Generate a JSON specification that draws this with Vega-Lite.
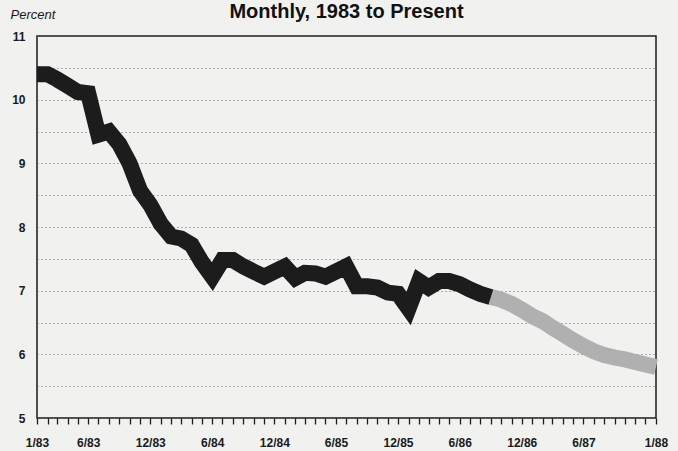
{
  "$schema": "https://vega.github.io/schema/vega-lite/v6.json",
  "width": 619,
  "height": 382,
  "autosize": {"type": "none"},
  "padding": {"left": 37, "top": 36, "right": 22, "bottom": 33},
  "background": "#f1f1ef",
  "config": {
    "view": {"stroke": "#1a1a1a", "strokeWidth": 1.5},
    "font": "Liberation Sans"
  },
  "title": {
    "text": "Monthly, 1983 to Present",
    "fontSize": 20,
    "fontWeight": "bold",
    "font": "Liberation Sans",
    "color": "#111111",
    "anchor": "middle",
    "frame": "group",
    "dy": 17.5
  },
  "datasets": {
    "actual": [
      {"date": "1983-01-01", "rate": 10.4},
      {"date": "1983-02-01", "rate": 10.4},
      {"date": "1983-03-01", "rate": 10.32},
      {"date": "1983-04-01", "rate": 10.22},
      {"date": "1983-05-01", "rate": 10.12},
      {"date": "1983-06-01", "rate": 10.1},
      {"date": "1983-07-01", "rate": 9.45},
      {"date": "1983-08-01", "rate": 9.5},
      {"date": "1983-09-01", "rate": 9.3},
      {"date": "1983-10-01", "rate": 9.0},
      {"date": "1983-11-01", "rate": 8.57},
      {"date": "1983-12-01", "rate": 8.35},
      {"date": "1984-01-01", "rate": 8.05},
      {"date": "1984-02-01", "rate": 7.85},
      {"date": "1984-03-01", "rate": 7.82},
      {"date": "1984-04-01", "rate": 7.72},
      {"date": "1984-05-01", "rate": 7.45},
      {"date": "1984-06-01", "rate": 7.22},
      {"date": "1984-07-01", "rate": 7.48},
      {"date": "1984-08-01", "rate": 7.48},
      {"date": "1984-09-01", "rate": 7.38},
      {"date": "1984-10-01", "rate": 7.3},
      {"date": "1984-11-01", "rate": 7.22},
      {"date": "1984-12-01", "rate": 7.3},
      {"date": "1985-01-01", "rate": 7.38},
      {"date": "1985-02-01", "rate": 7.2},
      {"date": "1985-03-01", "rate": 7.28},
      {"date": "1985-04-01", "rate": 7.27},
      {"date": "1985-05-01", "rate": 7.22},
      {"date": "1985-06-01", "rate": 7.3},
      {"date": "1985-07-01", "rate": 7.38},
      {"date": "1985-08-01", "rate": 7.07},
      {"date": "1985-09-01", "rate": 7.07},
      {"date": "1985-10-01", "rate": 7.05},
      {"date": "1985-11-01", "rate": 6.97},
      {"date": "1985-12-01", "rate": 6.95},
      {"date": "1986-01-01", "rate": 6.72},
      {"date": "1986-02-01", "rate": 7.15},
      {"date": "1986-03-01", "rate": 7.05},
      {"date": "1986-04-01", "rate": 7.15},
      {"date": "1986-05-01", "rate": 7.15},
      {"date": "1986-06-01", "rate": 7.1},
      {"date": "1986-07-01", "rate": 7.02},
      {"date": "1986-08-01", "rate": 6.95},
      {"date": "1986-09-01", "rate": 6.9}
    ],
    "forecast": [
      {"date": "1986-09-01", "rate": 6.9},
      {"date": "1986-10-01", "rate": 6.86},
      {"date": "1986-11-01", "rate": 6.79},
      {"date": "1986-12-01", "rate": 6.7},
      {"date": "1987-01-01", "rate": 6.6},
      {"date": "1987-02-01", "rate": 6.52},
      {"date": "1987-03-01", "rate": 6.42},
      {"date": "1987-04-01", "rate": 6.32},
      {"date": "1987-05-01", "rate": 6.22},
      {"date": "1987-06-01", "rate": 6.13},
      {"date": "1987-07-01", "rate": 6.05},
      {"date": "1987-08-01", "rate": 5.99},
      {"date": "1987-09-01", "rate": 5.95},
      {"date": "1987-10-01", "rate": 5.92},
      {"date": "1987-11-01", "rate": 5.88},
      {"date": "1987-12-01", "rate": 5.84},
      {"date": "1988-01-01", "rate": 5.8}
    ]
  },
  "encoding": {
    "x": {
      "field": "date",
      "type": "temporal",
      "scale": {
        "type": "utc",
        "domain": [
          {"year": 1983, "month": 1, "date": 1, "utc": true},
          {"year": 1988, "month": 1, "date": 1, "utc": true}
        ],
        "nice": false
      },
      "axis": {
        "title": null,
        "grid": false,
        "domain": false,
        "tickCount": {"interval": "month", "step": 1},
        "tickSize": 6,
        "tickWidth": 1.3,
        "tickColor": "#1a1a1a",
        "labelPadding": 13,
        "labelFlush": false,
        "labelOverlap": false,
        "labelFontSize": 12,
        "labelFontWeight": "bold",
        "labelColor": "#1a1a1a",
        "labelExpr": "((utcmonth(datum.value)==5 || utcmonth(datum.value)==11) && !(utcyear(datum.value)==1987 && utcmonth(datum.value)==11)) || (utcmonth(datum.value)==0 && (utcyear(datum.value)==1983 || utcyear(datum.value)==1988)) ? utcFormat(datum.value, '%-m/%y') : ''",
        "encode": {
          "ticks": {
            "update": {
              "y2": {"signal": "((utcmonth(datum.value)==11 && utcyear(datum.value) < 1987) || utcyear(datum.value)==1988) ? -14 : (utcmonth(datum.value)==5 ? -9 : -6)"}
            }
          }
        }
      }
    },
    "y": {
      "field": "rate",
      "type": "quantitative",
      "scale": {"domain": [5, 11], "nice": false, "zero": false},
      "axis": {
        "title": "Percent",
        "titleAngle": 0,
        "titleAlign": "left",
        "titleBaseline": "alphabetic",
        "titleX": -27,
        "titleY": -18,
        "titleFontSize": 13,
        "titleFontStyle": "italic",
        "titleFontWeight": "normal",
        "titleColor": "#1a1a1a",
        "values": [5, 5.5, 6, 6.5, 7, 7.5, 8, 8.5, 9, 9.5, 10, 10.5, 11],
        "labelExpr": "datum.value % 1 == 0 ? format(datum.value, 'd') : ''",
        "ticks": false,
        "domain": false,
        "labelPadding": 12,
        "labelFontSize": 12,
        "labelFontWeight": "bold",
        "labelColor": "#1a1a1a",
        "grid": true,
        "gridColor": "#666666",
        "gridDash": [1, 3],
        "gridWidth": 1
      }
    }
  },
  "layer": [
    {
      "data": {"name": "forecast"},
      "mark": {"type": "line", "color": "#b0b0b0", "strokeWidth": 16, "strokeCap": "butt", "strokeJoin": "miter"}
    },
    {
      "data": {"name": "actual"},
      "mark": {"type": "line", "color": "#1c1c1c", "strokeWidth": 16, "strokeCap": "butt", "strokeJoin": "miter"}
    }
  ]
}
